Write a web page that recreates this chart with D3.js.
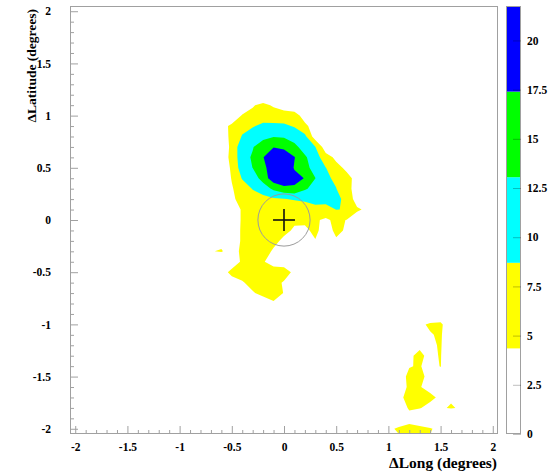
<!DOCTYPE html>
<html><head><meta charset="utf-8">
<script src="https://cdn.jsdelivr.net/npm/d3@7"></script>
<style>
html,body{margin:0;padding:0;background:#fff;}
svg{display:block;}
text{font-family:"Liberation Serif","Times New Roman",serif;font-weight:bold;fill:#000;}
</style></head><body>
<svg id="chart" width="549" height="473"></svg>
<script>
// ---------- data ----------
const axisTicks = [-2, -1.5, -1, -0.5, 0, 0.5, 1, 1.5, 2];
const colorTicks = [0, 2.5, 5, 7.5, 10, 12.5, 15, 17.5, 20];
const zRange = [0, 21.75];
const levels = [4.35, 8.7, 13.05, 17.4];
const levelColors = ["#ffff00", "#00ffff", "#00ff00", "#0000ff"];
const binSize = 0.1;
const sourcePos = [0, 0];
const circleRadius = 0.25;
const crossHalf = 0.105;

// main blob: columns x = -0.7 .. 0.8, rows y = 1.2 .. -0.9
const gridAOrigin = [-0.7, 1.2];
const gridA = [
  [0,0,0,0,0,0,0,0,0,0,0,0,0,0,0,0],
  [0,0,0,2,4.0,5.5,3.8,2.5,1.5,0,0,0,0,0,0,0],
  [0,0,2,4.6,5.4,7.0,6.5,6.2,6.0,2.7,1,0,0,0,0,0],
  [0,3.2,5.0,7.5,8.4,9.5,9.6,9.5,8.3,5.2,2.5,1,0,0,0,0],
  [0,2,5.5,9.0,10.5,11.8,12.8,12.6,11.5,9.8,2.0,0.5,0,0,0,0],
  [0,2.5,5.0,12.0,12.8,15.5,17.3,16.5,14.0,11.5,8.8,2.0,1,0,0,0],
  [0,2.0,5.5,11.5,13.5,17.3,19.5,20,17.6,13.6,10.8,6.0,3.5,1,0,0],
  [0,1.5,5.0,11.0,13.1,16.3,19.8,21.75,17.0,14.0,11.9,8.8,5.5,3.6,1,0],
  [0,1.0,4.6,9.0,10.5,15.0,20,21.5,19.0,17.2,13.1,9.5,7.9,5.5,3.2,0.5],
  [0,0.5,4.0,6.5,8.9,10.5,14.0,16.0,16.5,13.6,11.5,10.0,8.8,5.5,3.0,0.5],
  [0,0.3,3.5,6.0,7.0,7.5,8.0,8.5,9.2,9.5,9.8,9.6,9.8,7.5,2.3,0.5],
  [0,0,2.0,4.8,6.0,6.5,6.8,6.5,5.0,6.3,7.8,7.8,8.75,8.6,5.0,3.5],
  [0,0,2.0,4.8,5.5,6.0,6.0,5.8,4.8,4.9,5.0,3.5,5.5,4.2,1.75,0.5],
  [0,0,2.5,4.8,5.5,5.8,5.5,5.0,4.0,3.8,5.0,3.0,5.0,4.0,0.5,0],
  [0,3.5,2.5,4.8,5.5,5.8,5.0,3.8,2.0,2.0,4.2,2.0,4.0,2.0,0,0],
  [4.2,4.6,3.0,5.0,5.8,5.5,4.0,2.0,0.5,0,0,0,0,0,0,0],
  [0,0.5,2.0,5.0,6.0,4.6,3.0,2.5,1.0,0,0,0,0,0,0,0],
  [0,2.5,5.5,6.0,6.5,6.5,6.0,6.0,3.5,0.5,0,0,0,0,0,0],
  [0,0.5,2.5,4.0,5.5,5.0,5.5,4.0,1.0,0,0,0,0,0,0,0],
  [0,0,0,1.5,4.0,5.5,6.0,4.2,1.0,0,0,0,0,0,0,0],
  [0,0,0,0,0.5,2.0,3.8,1.5,0,0,0,0,0,0,0,0],
  [0,0,0,0,0,0,0,0,0,0,0,0,0,0,0,0]
];

// lower-right patches: columns x = 1.0 .. 1.8, rows y = -0.9 .. -2.0
const gridBOrigin = [1.0, -0.9];
const gridB = [
  [0,0,0,0,0,0,0,0,0],
  [0,0,0,3.5,5.0,5.5,0,0,0],
  [0,0,0,1.0,4.0,5.0,0,0,0],
  [0,0,0,3.8,3.5,4.8,0,0,0],
  [0,0,3.9,5.0,3.5,4.6,0,0,0],
  [0,0,4.2,4.6,3.0,4.5,0,0,0],
  [0,3.0,5.0,5.5,3.0,2.5,0,0,0],
  [0,3.0,4.8,4.5,3.5,1.0,0,0,0],
  [1.0,3.5,5.5,6.0,5.0,3.8,4.0,0.5,0],
  [0.5,2.0,4.8,4.5,3.5,4.0,4.6,4.0,0],
  [1.0,1.0,3.0,2.0,1.0,0.5,0,0,0],
  [3.5,5.0,5.5,5.2,4.6,3.5,0,0,0]
];

// ---------- layout ----------
const frame = {left: 70, right: 498, top: 6, bottom: 434};
const bar = {left: 506, width: 15};
const svg = d3.select("#chart");
const x = d3.scaleLinear().domain([-2.05, 2.05]).range([frame.left, frame.right]);
const y = d3.scaleLinear().domain([-2.05, 2.05]).range([frame.bottom, frame.top]);
const c = d3.scaleLinear().domain(zRange).range([frame.bottom, frame.top]);
const frameGray = "#a0a0a0";

svg.append("defs").append("clipPath").attr("id", "fclip")
  .append("rect").attr("x", frame.left).attr("y", frame.top)
  .attr("width", frame.right - frame.left).attr("height", frame.bottom - frame.top);

const plot = svg.append("g").attr("clip-path", "url(#fclip)");

function drawGrid(grid, origin) {
  const ny = grid.length, nx = grid[0].length;
  const values = grid.flat();
  const contours = d3.contours().size([nx, ny]).thresholds(levels)(values);
  const proj = d3.geoTransform({
    point(px, py) {
      this.stream.point(x(origin[0] + (px - 0.5) * binSize), y(origin[1] - (py - 0.5) * binSize));
    }
  });
  const path = d3.geoPath(proj);
  plot.append("g").selectAll("path").data(contours).join("path")
    .attr("d", path)
    .attr("fill", d => levelColors[levels.indexOf(d.value)])
    .attr("fill-rule", "evenodd");
}
drawGrid(gridA, gridAOrigin);
drawGrid(gridB, gridBOrigin);

// source circle and cross
plot.append("circle")
  .attr("cx", x(sourcePos[0])).attr("cy", y(sourcePos[1]))
  .attr("r", x(circleRadius) - x(0))
  .attr("fill", "none").attr("stroke", "#9c9c9c").attr("stroke-width", 1);
plot.append("line")
  .attr("x1", x(sourcePos[0] - crossHalf)).attr("x2", x(sourcePos[0] + crossHalf))
  .attr("y1", y(sourcePos[1])).attr("y2", y(sourcePos[1]))
  .attr("stroke", "#111").attr("stroke-width", 1.6);
plot.append("line")
  .attr("x1", x(sourcePos[0])).attr("x2", x(sourcePos[0]))
  .attr("y1", y(sourcePos[1] - crossHalf)).attr("y2", y(sourcePos[1] + crossHalf))
  .attr("stroke", "#111").attr("stroke-width", 1.6);

// frame
svg.append("rect")
  .attr("x", frame.left + 0.5).attr("y", frame.top + 0.5)
  .attr("width", frame.right - frame.left - 1).attr("height", frame.bottom - frame.top - 1)
  .attr("fill", "none").attr("stroke", frameGray).attr("stroke-width", 1);

// axes
const minorTicks = d3.range(-20, 21).map(i => i / 10).filter(v => !axisTicks.includes(v));
const fmt = d => String(d);
function styleAxis(g) {
  g.select(".domain").remove();
  g.selectAll("line").attr("stroke", frameGray);
  g.selectAll("text").attr("font-size", "11.5px").attr("font-family", "Liberation Serif, serif")
    .attr("font-weight", "bold").attr("fill", "#000");
}
svg.append("g").attr("transform", `translate(0,${frame.bottom})`)
  .call(d3.axisBottom(x).tickValues(minorTicks).tickSize(-4).tickFormat(""))
  .call(styleAxis);
svg.append("g").attr("transform", `translate(0,${frame.bottom})`)
  .call(d3.axisBottom(x).tickValues(axisTicks).tickSize(-8).tickPadding(9).tickFormat(fmt))
  .call(styleAxis);
svg.append("g").attr("transform", `translate(${frame.left},0)`)
  .call(d3.axisLeft(y).tickValues(minorTicks).tickSize(-4).tickFormat(""))
  .call(styleAxis);
svg.append("g").attr("transform", `translate(${frame.left},0)`)
  .call(d3.axisLeft(y).tickValues(axisTicks).tickSize(-8).tickPadding(19).tickFormat(fmt))
  .call(styleAxis);

// axis titles
svg.append("text").attr("x", frame.right - 1).attr("y", 468)
  .attr("text-anchor", "end").attr("font-size", "15.5px").text("\u0394Long (degrees)");
svg.append("text").attr("transform", "translate(36,9) rotate(-90)")
  .attr("text-anchor", "end").attr("font-size", "13.5px").text("\u0394Latitude (degrees)");

// colour bar
const bands = [zRange[0], ...levels, zRange[1]];
const bandColors = ["#ffffff", ...levelColors];
svg.append("g").selectAll("rect").data(d3.range(bands.length - 1)).join("rect")
  .attr("x", bar.left).attr("width", bar.width)
  .attr("y", i => c(bands[i + 1])).attr("height", i => c(bands[i]) - c(bands[i + 1]))
  .attr("fill", i => bandColors[i]);
svg.append("rect")
  .attr("x", bar.left + 0.5).attr("y", c(zRange[1]) + 0.5)
  .attr("width", bar.width - 1).attr("height", c(zRange[0]) - c(zRange[1]) - 1)
  .attr("fill", "none").attr("stroke", frameGray);
svg.append("g").attr("transform", `translate(${bar.left + bar.width},0)`)
  .call(d3.axisRight(c).tickValues(colorTicks).tickSize(-8).tickPadding(6).tickFormat(fmt))
  .call(styleAxis)
  .call(g => g.selectAll("line").attr("stroke", "#000").attr("stroke-opacity", 0.25));
</script>
</body></html>
